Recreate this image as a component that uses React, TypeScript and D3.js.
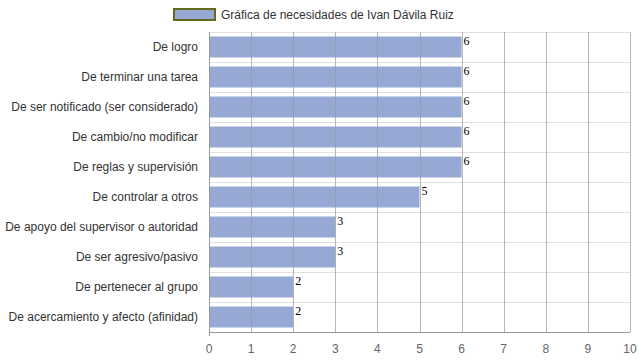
import React from "react";
import * as d3 from "d3";

const categories = [
  "De logro",
  "De terminar una tarea",
  "De ser notificado (ser considerado)",
  "De cambio/no modificar",
  "De reglas y supervisión",
  "De controlar a otros",
  "De apoyo del supervisor o autoridad",
  "De ser agresivo/pasivo",
  "De pertenecer al grupo",
  "De acercamiento y afecto (afinidad)",
];
const values = [6, 6, 6, 6, 6, 5, 3, 3, 2, 2];
const xTicks = [0, 1, 2, 3, 4, 5, 6, 7, 8, 9, 10];
const legendLabel = "Gráfica de necesidades de Ivan Dávila Ruiz";

export default function App() {
  const W = 639, H = 360;
  const left = 209, right = 630, top = 32, bottom = 332;
  const x = d3.scaleLinear().domain([0, 10]).range([left, right]);
  const y = d3.scaleBand<string>().domain(categories).range([top, bottom]).paddingInner(0.3).paddingOuter(0.15);
  const band = d3.scaleBand<string>().domain(categories).range([top, bottom]);
  const font = "Arial, 'Liberation Sans', sans-serif";
  return (
    <svg width={W} height={H} style={{ position: "absolute", left: 0, top: 0, background: "#fff" }}>
      {categories.map((c) => (
        <line key={"h" + c} x1={left} x2={right} y1={band(c)! + 0.5} y2={band(c)! + 0.5} stroke="#e0e0e0" strokeWidth={1} />
      ))}
      {categories.map((c, i) => (
        <rect key={"b" + c} x={x(0)} y={y(c)!} width={x(values[i]) - x(0)} height={y.bandwidth()} fill="#95a9d4" />
      ))}
      {xTicks.slice(1).map((t) => (
        <line key={"v" + t} x1={Math.round(x(t)) + 0.5} x2={Math.round(x(t)) + 0.5} y1={top} y2={bottom} stroke="#999" strokeOpacity={0.7} strokeWidth={1} />
      ))}
      <line x1={left + 0.5} x2={left + 0.5} y1={top} y2={bottom + 4} stroke="#999" />
      <line x1={left} x2={right} y1={bottom + 0.5} y2={bottom + 0.5} stroke="#999" />
      {xTicks.map((t) => (
        <text key={"t" + t} x={x(t)} y={353} textAnchor="middle" fontFamily={font} fontSize={12} fill="#666">{t}</text>
      ))}
      {categories.map((c) => (
        <text key={"l" + c} x={198} y={band(c)! + band.bandwidth() / 2 + 4} textAnchor="end" fontFamily={font} fontSize={12} fill="#333">{c}</text>
      ))}
      {categories.map((c, i) => (
        <text key={"n" + c} x={x(values[i]) + 2} y={y(c)! + 8.5} fontFamily="'Liberation Serif', 'Times New Roman', serif" fontSize={12} fill="#000">{values[i]}</text>
      ))}
      <rect x={174} y={9} width={41} height={11} fill="#95a9d4" stroke="#666a1e" strokeWidth={2} />
      <text x={221} y={19} fontFamily={font} fontSize={12} fill="#333">{legendLabel}</text>
    </svg>
  );
}
